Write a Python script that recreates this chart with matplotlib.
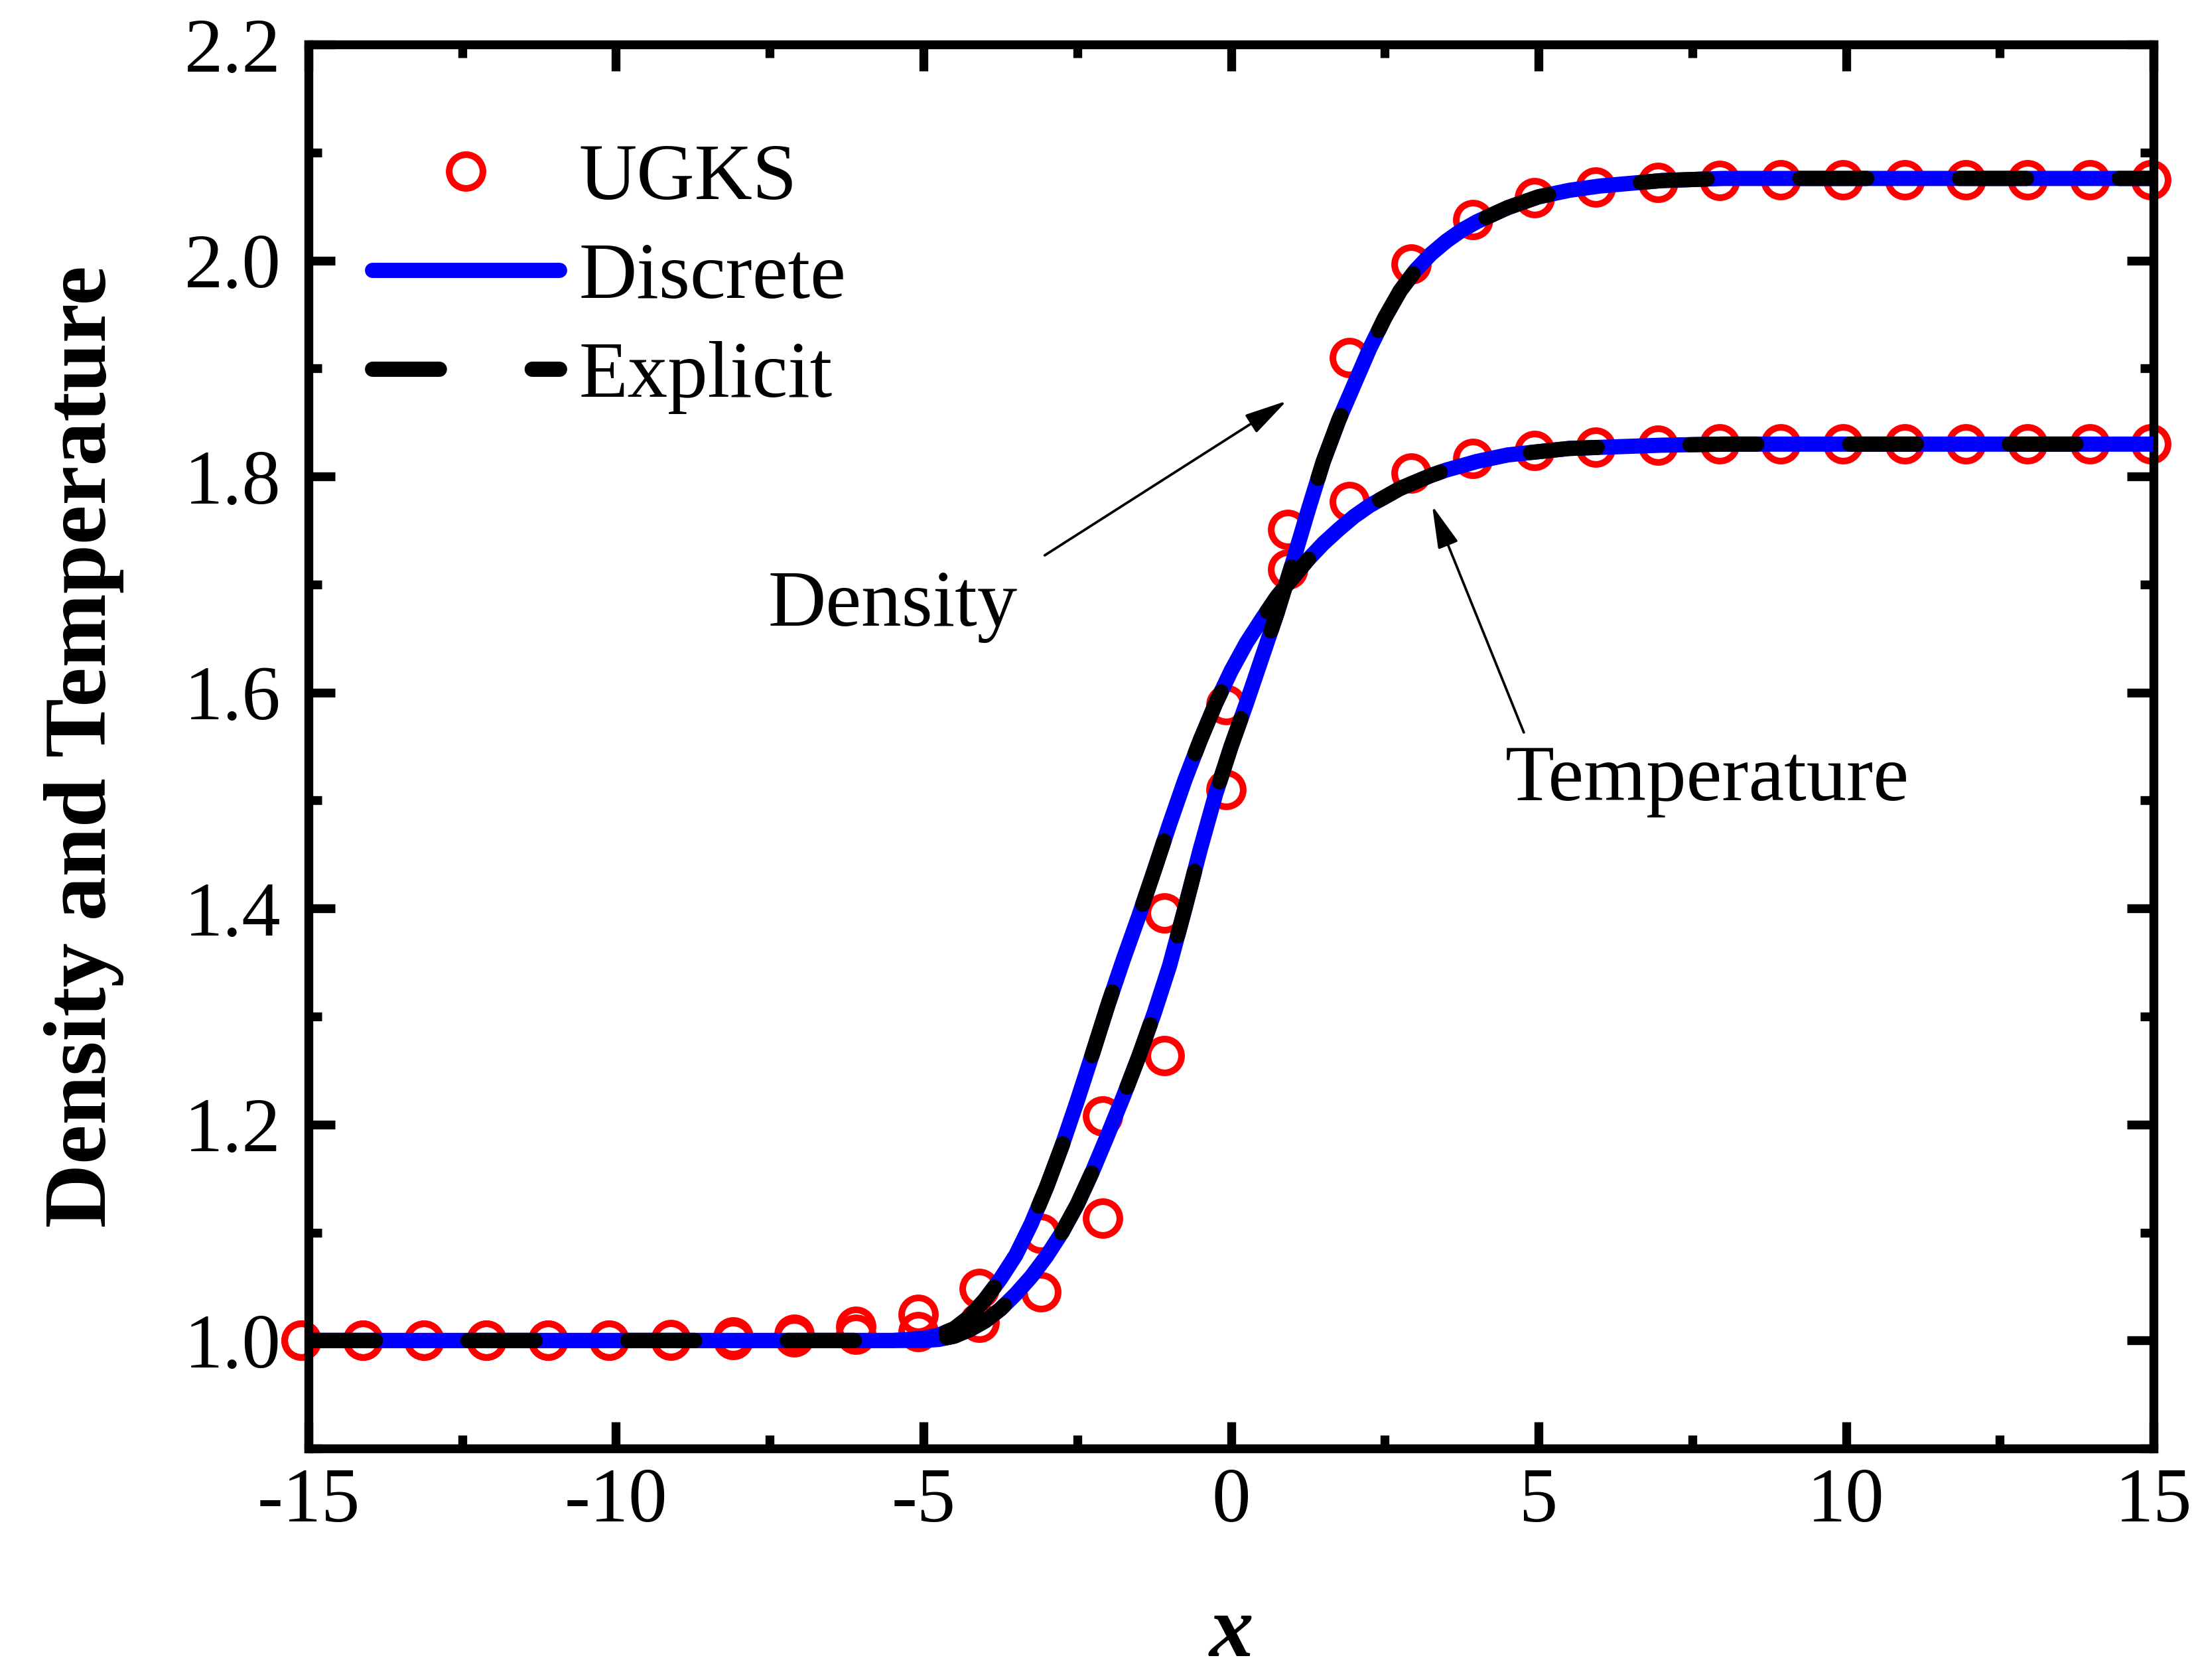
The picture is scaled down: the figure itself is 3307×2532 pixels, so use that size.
import numpy as np
import matplotlib
matplotlib.use("Agg")
import matplotlib.pyplot as plt
from matplotlib.ticker import MultipleLocator, FormatStrFormatter

plt.rcParams['font.family'] = ['Liberation Serif', 'DejaVu Serif']
plt.rcParams['axes.unicode_minus'] = False

# UGKS samples
x_ugks = [-15.12, -14.12, -13.12, -12.11, -11.11, -10.11, -9.11, -8.10, -7.10, -6.10,
          -5.09, -4.09, -3.09, -2.09, -1.09, -0.08, 0.92, 1.92, 2.93, 3.93,
          4.93, 5.93, 6.94, 7.94, 8.94, 9.95, 10.95, 11.95, 12.95, 13.96, 14.96]
rho_ugks = [1.0, 1.0, 1.0, 1.0, 1.0, 1.0, 1.0, 1.001, 1.003, 1.006,
            1.008, 1.017, 1.045, 1.113, 1.264, 1.510, 1.751, 1.910, 1.997, 2.038,
            2.058, 2.068, 2.072, 2.074, 2.075, 2.075, 2.075, 2.075, 2.075, 2.075, 2.075]
T_ugks = [1.0, 1.0, 1.0, 1.0, 1.0, 1.0, 1.001, 1.003, 1.006, 1.013,
          1.024, 1.048, 1.099, 1.208, 1.396, 1.589, 1.714, 1.777, 1.803, 1.817,
          1.824, 1.827, 1.829, 1.83, 1.83, 1.83, 1.83, 1.83, 1.83, 1.83, 1.83]

# continuous profiles (Discrete and Explicit overlap)
x_line = [-15, -5.5, -5, -4.75, -4.5, -4.25, -4, -3.75, -3.5, -3.25, -3, -2.75, -2.5, -2.25,
          -2, -1.75, -1.5, -1.25, -1, -0.75, -0.5, -0.25, 0, 0.25, 0.5, 0.75, 1, 1.25,
          1.5, 1.75, 2, 2.25, 2.5, 2.75, 3, 3.25, 3.5, 3.75, 4, 4.5, 5, 5.5, 6, 7, 8, 15]
rho_line = [1.0, 1.0, 1.0, 1.001, 1.004, 1.010, 1.018, 1.029, 1.043, 1.059, 1.078, 1.100, 1.126, 1.157,
            1.191, 1.226, 1.263, 1.303, 1.347, 1.400, 1.455, 1.506, 1.550, 1.590, 1.632, 1.674, 1.720, 1.768,
            1.814, 1.852, 1.885, 1.918, 1.947, 1.972, 1.991, 2.006, 2.018, 2.028, 2.036, 2.049, 2.059, 2.065,
            2.069, 2.074, 2.076, 2.076]
T_line = [1.0, 1.0, 1.002, 1.005, 1.011, 1.022, 1.038, 1.057, 1.079, 1.108, 1.142, 1.180, 1.222, 1.266,
          1.311, 1.353, 1.393, 1.435, 1.478, 1.519, 1.556, 1.590, 1.620, 1.646, 1.668, 1.689, 1.706, 1.723,
          1.738, 1.751, 1.763, 1.773, 1.781, 1.789, 1.795, 1.801, 1.806, 1.810, 1.814, 1.820, 1.823, 1.826,
          1.827, 1.829, 1.830, 1.830]

fig = plt.figure(figsize=(3307/300, 2532/300), dpi=300)
ax = fig.add_axes([0.1406, 0.1378, 0.8410, 0.8357])

lw = 5.5
dash = (4.4, 6.1)

ax.plot(x_ugks, rho_ugks, 'o', mfc='none', mec='red', ms=12.2, mew=2.4,
        clip_on=False, zorder=2, label='UGKS')
ax.plot(x_ugks, T_ugks, 'o', mfc='none', mec='red', ms=12.2, mew=2.4,
        clip_on=False, zorder=2)

ax.plot(x_line, rho_line, '-', color='blue', lw=lw, solid_capstyle='round',
        solid_joinstyle='round', zorder=3, label='Discrete')
ax.plot(x_line, T_line, '-', color='blue', lw=lw, solid_capstyle='round',
        solid_joinstyle='round', zorder=3)

ax.plot(x_line, rho_line, color='black', lw=lw, dashes=dash, dash_capstyle='round',
        dash_joinstyle='round', zorder=4, label='Explicit')
ax.plot(x_line, T_line, color='black', lw=lw, dashes=dash, dash_capstyle='round',
        dash_joinstyle='round', zorder=4)

ax.set_xlim(-15, 15)
ax.set_ylim(0.9, 2.2)
ax.xaxis.set_major_locator(MultipleLocator(5))
ax.xaxis.set_minor_locator(MultipleLocator(2.5))
ax.yaxis.set_major_locator(MultipleLocator(0.2))
ax.yaxis.set_minor_locator(MultipleLocator(0.1))
ax.yaxis.set_major_formatter(FormatStrFormatter('%.1f'))
ax.set_yticks([1.0, 1.2, 1.4, 1.6, 1.8, 2.0, 2.2])

for s in ax.spines.values():
    s.set_linewidth(3.2)
ax.tick_params(which='both', direction='in', top=True, right=True, width=3.2)
ax.tick_params(which='major', length=9.5, labelsize=28)
ax.tick_params(which='minor', length=4.8)
ax.tick_params(axis='x', which='major', pad=7)
ax.tick_params(axis='y', which='major', pad=10)

ax.set_xlabel('x', fontsize=32, fontweight='bold', style='italic')
ax.set_ylabel('Density and Temperature', fontsize=32, fontweight='bold')
ax.xaxis.set_label_coords(0.5, -0.104)
ax.yaxis.set_label_coords(-0.100, 0.5)

leg = ax.legend(loc='upper left', bbox_to_anchor=(0.0346, 0.93), frameon=False,
                fontsize=29, handlelength=2.33, handletextpad=0.25,
                labelspacing=0.32, borderpad=0, borderaxespad=0)

# annotations
ax.text(-7.53, 1.662, 'Density', fontsize=29, ha='left', va='baseline')
ax.text(4.46, 1.500, 'Temperature', fontsize=29, ha='left', va='baseline')
arrow = dict(arrowstyle='-|>,head_length=0.66,head_width=0.165', lw=0.9,
             color='black', mutation_scale=20, shrinkA=0, shrinkB=0)
ax.annotate('', xy=(0.905, 1.87), xytext=(-3.03, 1.727), arrowprops=arrow)
ax.annotate('', xy=(3.27, 1.773), xytext=(4.76, 1.563), arrowprops=arrow)

fig.savefig('out.png', dpi=300)
